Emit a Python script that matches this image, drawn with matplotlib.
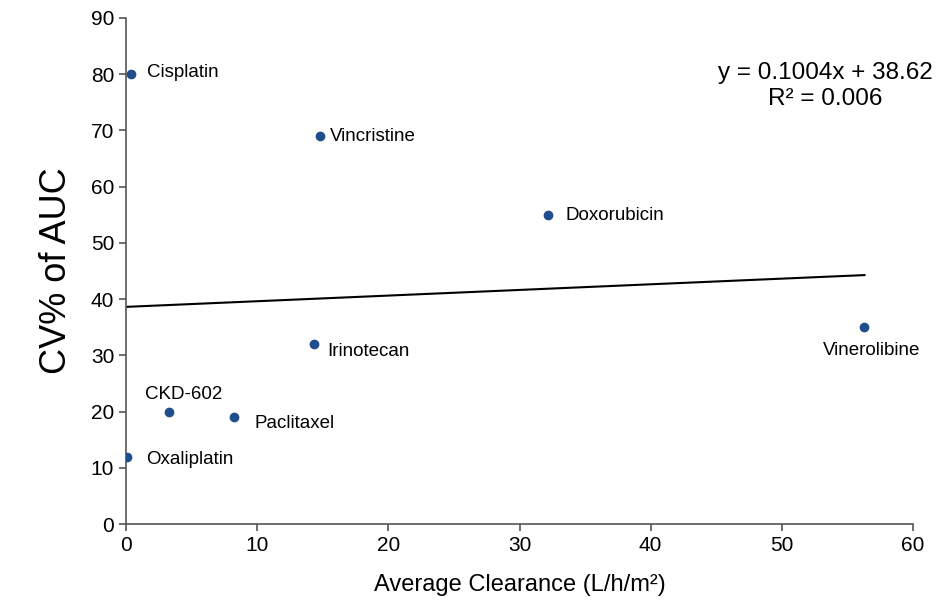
import numpy as np
import matplotlib.pyplot as plt

plt.rcParams['font.family'] = ['Liberation Sans', 'DejaVu Sans']

drugs = ['Cisplatin', 'Vincristine', 'Doxorubicin', 'Vinerolibine',
         'Irinotecan', 'CKD-602', 'Paclitaxel', 'Oxaliplatin']
clearance = [0.4, 14.8, 32.2, 56.3, 14.3, 3.3, 8.2, 0.1]
cv_auc = [80, 69, 55, 35, 32, 20, 19, 12]
slope, intercept, r2 = 0.1004, 38.62, 0.006

# label offsets in pixels (dx, dy, ha)
offsets = {
    'Cisplatin': (16, 2, 'left'),
    'Vincristine': (10, 0, 'left'),
    'Doxorubicin': (17, -1, 'left'),
    'Vinerolibine': (7, -23, 'center'),
    'Irinotecan': (14, -7, 'left'),
    'CKD-602': (14, 17, 'center'),
    'Paclitaxel': (21, -6, 'left'),
    'Oxaliplatin': (19, -3, 'left'),
}

fig = plt.figure(figsize=(9.41, 6.10), dpi=100)
ax = fig.add_axes([126/941, 1 - 524/610, (913-126)/941, (524-18)/610])

ax.scatter(clearance, cv_auc, s=36, color='#1f4e8c', zorder=3)

xs = np.array([0, max(clearance)])
ax.plot(xs, slope*xs + intercept, color='black', lw=1.5)

for name, x, y in zip(drugs, clearance, cv_auc):
    dx, dy, ha = offsets[name]
    ax.annotate(name, (x, y), xytext=(dx*0.72, dy*0.72), textcoords='offset points',
                ha=ha, va='center', fontsize=13.5)

fig.text(825/941, 1 - 86/610, 'y = %.4fx + %.2f\nR² = %.3f' % (slope, intercept, r2),
         ha='center', va='center', fontsize=17.5,
         multialignment='center', linespacing=1.25)

ax.set_xlim(0, 60)
ax.set_ylim(0, 90)
ax.set_xticks(range(0, 61, 10))
ax.set_yticks(range(0, 91, 10))
ax.tick_params(labelsize=15, direction='out', length=5, color='#555555', width=1.2)
for s in ['top', 'right']:
    ax.spines[s].set_visible(False)
for s in ['left', 'bottom']:
    ax.spines[s].set_color('#555555')
    ax.spines[s].set_linewidth(1.2)

ax.set_xlabel('Average Clearance (L/h/m²)', fontsize=17, labelpad=14)
ax.set_ylabel('CV% of AUC', fontsize=26, labelpad=12)

fig.savefig('out.png', dpi=100)
